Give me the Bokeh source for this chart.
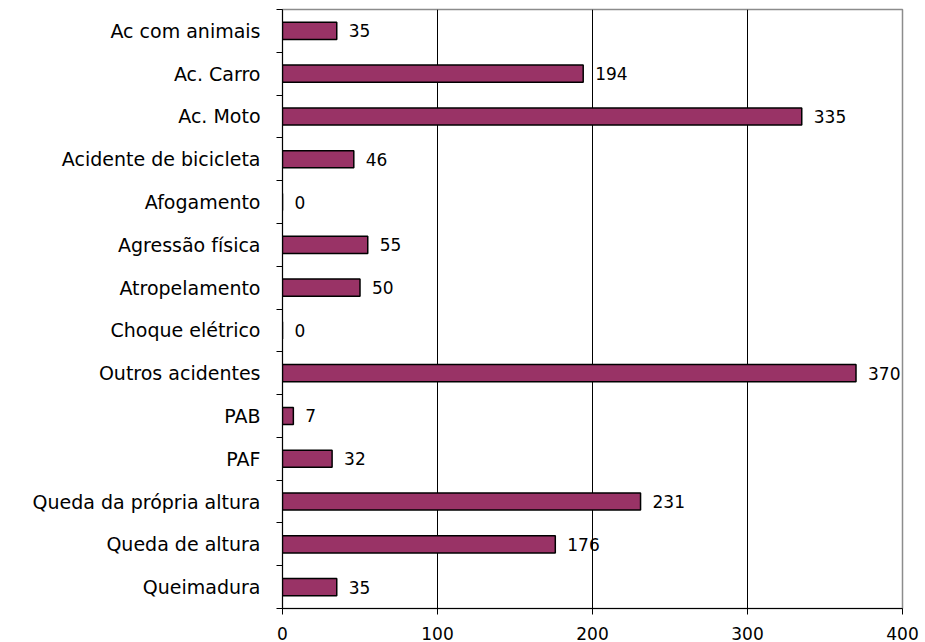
from bokeh.plotting import figure
from bokeh.models import Range1d, FixedTicker, ColumnDataSource, LabelSet
from bokeh.core.properties import value
from bokeh.embed import file_html
from bokeh.resources import INLINE

categories = [
    "Ac com animais", "Ac. Carro", "Ac. Moto", "Acidente de bicicleta",
    "Afogamento", "Agressão física", "Atropelamento", "Choque elétrico",
    "Outros acidentes", "PAB", "PAF", "Queda da própria altura",
    "Queda de altura", "Queimadura",
]
counts = [35, 194, 335, 46, 0, 55, 50, 0, 370, 7, 32, 231, 176, 35]
x_ticks = [0, 100, 200, 300, 400]

n = len(categories)
idx = list(range(n))

src = ColumnDataSource(dict(
    y=idx,
    v=counts,
    txt=[str(c) for c in counts],
))

FONT = "DejaVu Sans"

p = figure(
    width=925, height=642,
    x_range=Range1d(0, 400),
    y_range=Range1d(n - 0.5, -0.5),
    output_backend="svg", toolbar_location=None,
    min_border_left=282, min_border_right=23,
    min_border_top=9, min_border_bottom=34,
)

p.hbar(y="y", left=0, right="v", height=0.4, source=src,
       fill_color="#993366", line_color="black", line_width=1.5)

labels = LabelSet(x="v", y="y", text="txt", source=src,
                  x_offset=12, y_offset=0,
                  text_baseline="middle", text_align="left",
                  text_font=value(FONT), text_font_size="17px",
                  text_color="black")
p.add_layout(labels)

# y axis: names at bar centres, small tick marks between categories
yax = p.yaxis[0]
yax.ticker = FixedTicker(ticks=idx, minor_ticks=[i - 0.5 for i in range(n + 1)])
yax.major_label_overrides = {i: c for i, c in zip(idx, categories)}
yax.major_tick_in = 0
yax.major_tick_out = 0
yax.minor_tick_in = 0
yax.minor_tick_out = 6
yax.minor_tick_line_color = "black"
yax.axis_line_color = "black"
yax.major_label_standoff = 16
yax.major_label_text_font = FONT
yax.major_label_text_font_size = "19px"
yax.major_label_text_color = "black"

xax = p.xaxis[0]
xax.ticker = FixedTicker(ticks=x_ticks)
xax.major_tick_in = 0
xax.major_tick_out = 6
xax.minor_tick_out = 0
xax.minor_tick_in = 0
xax.axis_line_color = "black"
xax.major_tick_line_color = "black"
xax.major_label_standoff = 12
xax.major_label_text_font = FONT
xax.major_label_text_font_size = "17px"
xax.major_label_text_color = "black"

p.ygrid.visible = False
p.xgrid.ticker = FixedTicker(ticks=[100, 200, 300])
p.xgrid.grid_line_color = "black"
p.xgrid.grid_line_width = 1

p.outline_line_color = "#8c8c8c"
p.outline_line_width = 1.5
p.background_fill_color = "white"
p.border_fill_color = "white"

open("out.html", "w").write(file_html(p, INLINE))
